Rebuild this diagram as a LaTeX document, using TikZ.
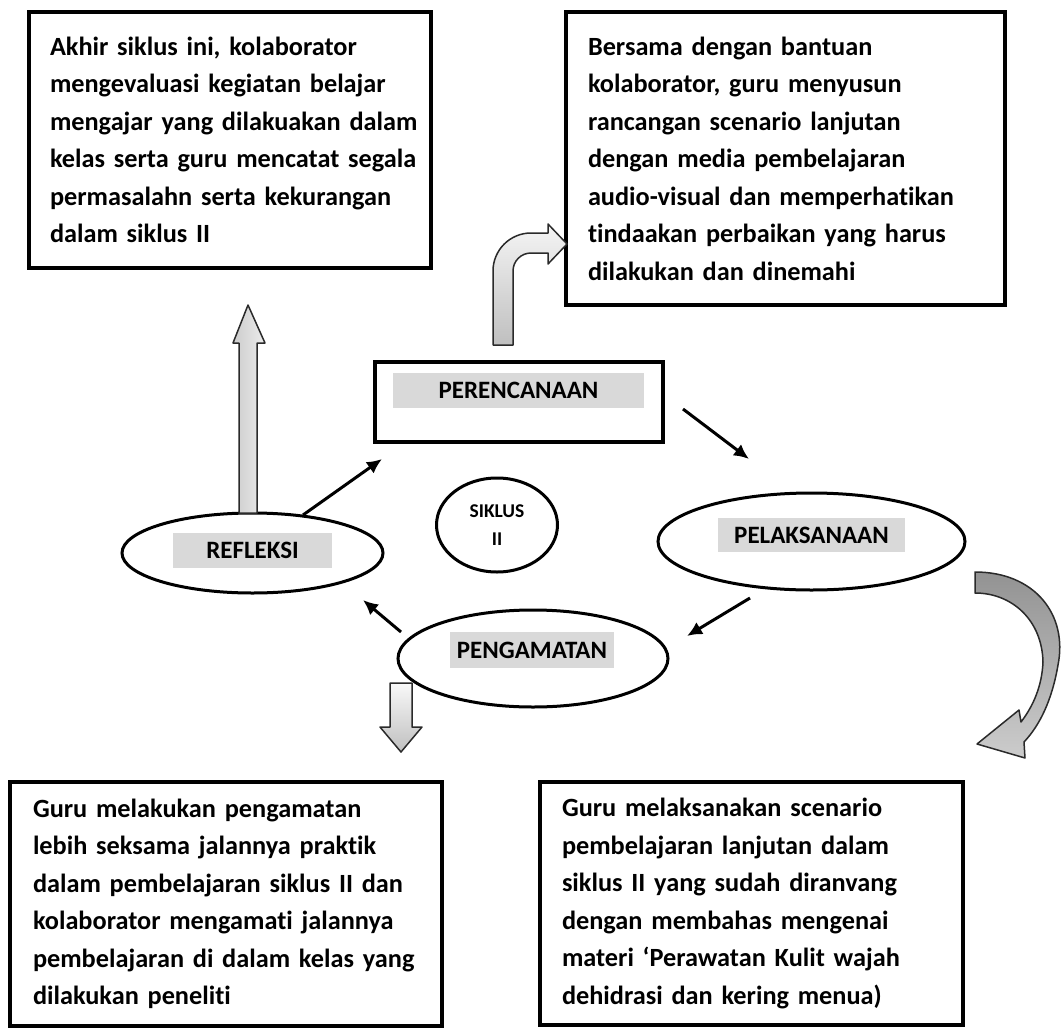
\documentclass[tikz,border=0pt]{standalone}
\usepackage{fontspec}
\setmainfont{Carlito}[Ligatures=NoCommon]
\usetikzlibrary{arrows.meta,shapes.geometric}
\definecolor{hlgray}{HTML}{D9D9D9}
\definecolor{edgegray}{HTML}{2A2A2A}
\begin{document}
\begin{tikzpicture}[x=1pt,y=-1pt,
  textbox/.style={draw=black, line width=4pt, rectangle, inner ysep=0pt, align=left,
    font=\fontsize{26.3}{37.5}\selectfont\bfseries},
  oval/.style={draw=black, line width=3pt, ellipse, inner sep=0pt},
  hlabel/.style={fill=hlgray, inner sep=0pt, font=\fontsize{25}{25}\selectfont\bfseries},
  conn/.style={draw=black, line width=3pt, -{Latex[length=15pt,width=14pt]}},
  blockarrow/.style={draw=edgegray, line width=1.5pt, line join=round}
]
\useasboundingbox (0,0) rectangle (1061,1028);

% text boxes
\node[textbox, inner xsep=21pt, text width=360pt, minimum height=256pt] (refbox) at (230,140)
  {\mbox{Akhir siklus ini, kolaborator}\\
   \mbox{mengevaluasi kegiatan belajar}\\
   \mbox{mengajar yang dilakuakan dalam}\\
   \mbox{kelas serta guru mencatat segala}\\
   \mbox{permasalahn serta kekurangan}\\
   \mbox{dalam siklus II}};
\node[textbox, inner xsep=22pt, text width=395pt, minimum height=293pt] (planbox) at (785.5,158.5)
  {\mbox{Bersama dengan bantuan}\\
   \mbox{kolaborator, guru menyusun}\\
   \mbox{rancangan scenario lanjutan}\\
   \mbox{dengan media pembelajaran}\\
   \mbox{audio-visual dan memperhatikan}\\
   \mbox{tindaakan perbaikan yang harus}\\
   \mbox{dilakukan dan dinemahi}};
\node[textbox, inner xsep=23pt, text width=386pt, minimum height=244pt] (obsbox) at (226,904)
  {\mbox{Guru melakukan pengamatan}\\
   \mbox{lebih seksama jalannya praktik}\\
   \mbox{dalam pembelajaran siklus II dan}\\
   \mbox{kolaborator mengamati jalannya}\\
   \mbox{pembelajaran di dalam kelas yang}\\
   \mbox{dilakukan peneliti}};
\node[textbox, inner xsep=22pt, text width=379pt, minimum height=243pt] (actbox) at (751.5,903.5)
  {\mbox{Guru melaksanakan scenario}\\
   \mbox{pembelajaran lanjutan dalam}\\
   \mbox{siklus II yang sudah diranvang}\\
   \mbox{dengan membahas mengenai}\\
   \mbox{materi `Perawatan Kulit wajah}\\
   \mbox{dehidrasi dan kering menua)}};

% cycle nodes
\node[draw=black, line width=4pt, rectangle, minimum width=288pt, minimum height=80pt] (plan) at (519,402) {};
\node[hlabel, minimum width=251pt, minimum height=35pt] (planlbl) at (518.5,390.5) {PERENCANAAN};

\node[oval, minimum width=307pt, minimum height=97pt] (act) at (811.5,541.5) {};
\node[hlabel, minimum width=187pt, minimum height=34pt] (actlbl) at (811.5,535) {PELAKSANAAN};

\node[oval, minimum width=270pt, minimum height=97pt] (obs) at (533,658.5) {};
\node[hlabel, minimum width=164pt, minimum height=36pt] (obslbl) at (532,650) {PENGAMATAN};

\node[oval, minimum width=261pt, minimum height=80pt] (ref) at (252.5,553) {};
\node[hlabel, minimum width=159pt, minimum height=35pt] (reflbl) at (252.5,550.5) {REFLEKSI};

\node[oval, minimum width=121pt, minimum height=94pt, align=center,
  font=\fontsize{19.5}{28}\selectfont\bfseries] (cyc) at (497,525) {SIKLUS\\II};

% thin connectors between the cycle stages
\coordinate (c1s) at (683,409);
\coordinate (c1e) at (749,459);
\coordinate (c2s) at (750,598);
\coordinate (c2e) at (687,636);
\coordinate (c3s) at (401,632);
\coordinate (c3e) at (363,600);
\coordinate (c4s) at (303,515);
\coordinate (c4e) at (382,459);
\draw[conn] (c1s) -- (c1e);
\draw[conn] (c2s) -- (c2e);
\draw[conn] (c3s) -- (c3e);
\draw[conn] (c4s) -- (c4e);

% bent block arrow: PERENCANAAN -> top-right box
\shadedraw[blockarrow, top color=gray!8, bottom color=gray!50]
  (493,345) -- (493,271) arc[start angle=180, end angle=270, radius=38]
  -- (548,233) -- (548,224) -- (567,244) -- (548,264) -- (548,253)
  -- (531,253) arc[start angle=270, end angle=180, radius=18]
  -- (513,345) -- cycle;

% up block arrow: REFLEKSI -> top-left box
\shadedraw[blockarrow, left color=gray!40, right color=gray!15]
  (239,513) -- (239,343) -- (233,343) -- (248,305) -- (265,343) -- (257,343)
  -- (257,513) -- cycle;

% down block arrow: PENGAMATAN -> bottom-left box
\shadedraw[blockarrow, top color=gray!5, bottom color=gray!50]
  (390,683) -- (412,683) -- (412,727) -- (422,727) -- (401,752)
  -- (380,727) -- (390,727) -- cycle;

% curved block arrow: PELAKSANAAN -> bottom-right box
\shadedraw[blockarrow, top color=gray!85, bottom color=gray!40]
  (975,572) .. controls (1035,572) and (1068,615) .. (1058,665)
  .. controls (1052,700) and (1040,725) .. (1024,742)
  -- (1025,758) -- (977,744) -- (1019,710) -- (1021,722)
  .. controls (1034,705) and (1042,685) .. (1043,662)
  .. controls (1042,620) and (1012,593) .. (975,593) -- cycle;
\end{tikzpicture}
\end{document}
